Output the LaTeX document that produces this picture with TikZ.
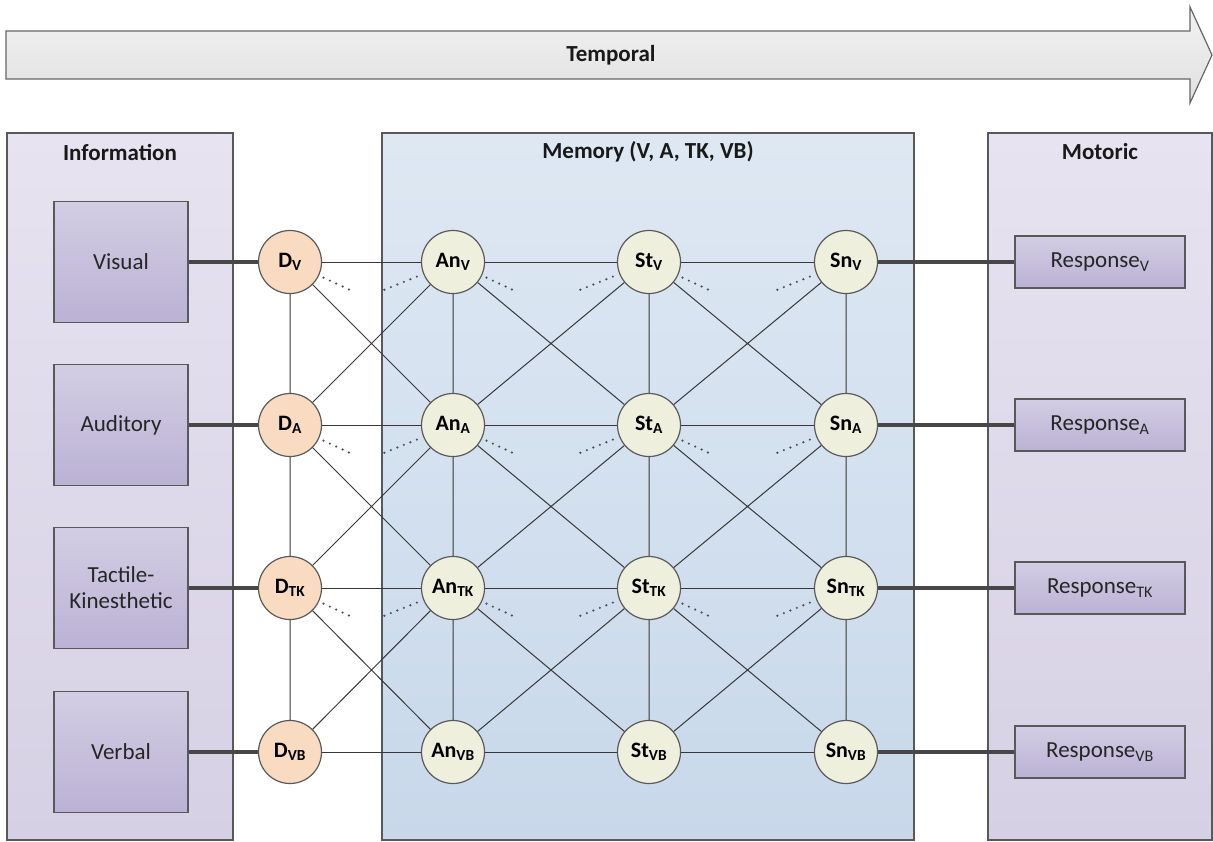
\documentclass[tikz,border=0pt]{standalone}
\usepackage{fontspec}
\setmainfont{Carlito}
\usetikzlibrary{positioning}

\definecolor{linegray}{HTML}{595959}
\definecolor{panelTop}{HTML}{E7E3F0}
\definecolor{panelBot}{HTML}{D6D0E4}
\definecolor{boxTop}{HTML}{D3CDE4}
\definecolor{boxBot}{HTML}{BBB2D4}
\definecolor{memTop}{HTML}{DEE8F3}
\definecolor{memBot}{HTML}{C8D8EA}
\definecolor{dFill}{HTML}{F9DBC1}
\definecolor{mFill}{HTML}{EEF0DD}

\newcommand{\lsub}[1]{\textsubscript{#1}}

\tikzset{
  panel/.style={draw=linegray, line width=1.2pt, top color=panelTop, bottom color=panelBot},
  mempanel/.style={panel, top color=memTop, bottom color=memBot},
  title/.style={font=\fontsize{23}{27}\selectfont\bfseries, text=black!90},
  srcbox/.style={draw=linegray, line width=1.2pt, top color=boxTop, bottom color=boxBot,
    minimum width=134, minimum height=121, align=center,
    font=\fontsize{23}{26}\selectfont, text=black!85},
  respbox/.style={srcbox, minimum width=170, minimum height=52},
  dnode/.style={circle, draw=linegray, line width=1.2pt, fill=dFill, minimum size=63,
    inner sep=0pt, font=\fontsize{22}{26}\selectfont\bfseries},
  mnode/.style={dnode, fill=mFill},
  link/.style={draw=black!78, line width=1pt},
  heavy/.style={draw=black!72, line width=3.4pt},
  dotline/.style={draw=black!70, line width=2.4pt, line cap=round, dash pattern=on 0pt off 7pt},
  timearrow/.style={draw=black!60, line width=1.2pt, top color=black!5, bottom color=black!12}
}

\begin{document}
\begin{tikzpicture}[x=1pt, y=-1pt]
  \useasboundingbox (0,0) rectangle (1213,841);

  % time axis
  \draw[timearrow] (6,31) -- (1190,31) -- (1190,7) -- (1212,55) -- (1190,103)
    -- (1190,79) -- (6,79) -- cycle;
  \node[title] (temporal) at (611,55) {Temporal};

  % panels
  \node[panel, minimum width=226, minimum height=707] (information) at (120,486.5) {};
  \node[mempanel, minimum width=532, minimum height=707] (memory) at (648,486.5) {};
  \node[panel, minimum width=224, minimum height=707] (motoric) at (1100,486.5) {};
  \node[title] (infotitle) at (120,152) {Information};
  \node[title] (memtitle) at (648,152) {Memory (V, A, TK, VB)};
  \node[title] (mottitle) at (1100,152) {Motoric};

  % sources
  \node[srcbox] (visual) at (121,262) {Visual};
  \node[srcbox] (auditory) at (121,425) {Auditory};
  \node[srcbox] (tactile) at (121,588) {Tactile-\\Kinesthetic};
  \node[srcbox] (verbal) at (121,752) {Verbal};

  % grid of states
  \foreach \r/\y in {V/262, A/425, TK/588, VB/752} {
    \node[dnode] (d\r) at (290,\y) {D\lsub{\r}};
    \node[mnode] (an\r) at (453,\y) {An\lsub{\r}};
    \node[mnode] (st\r) at (649,\y) {St\lsub{\r}};
    \node[mnode] (sn\r) at (846,\y) {Sn\lsub{\r}};
    \node[respbox] (resp\r) at (1100,\y) {Response\lsub{\r}};
  }

  \foreach \r/\b in {V/visual, A/auditory, TK/tactile, VB/verbal} {
    \draw[heavy] (\b) -- (d\r)  (sn\r) -- (resp\r);
    \draw[link] (d\r) -- (an\r)  (an\r) -- (st\r)  (st\r) -- (sn\r);
  }

  \foreach \r/\s in {V/A, A/TK, TK/VB} {
    \draw[link] (d\r) -- (d\s)  (an\r) -- (an\s)
                (st\r) -- (st\s)  (sn\r) -- (sn\s)
                (d\r) -- (an\s)  (d\s) -- (an\r)
                (an\r) -- (st\s)  (an\s) -- (st\r)
                (st\r) -- (sn\s)  (st\s) -- (sn\r);
  }

  % hints of further links
  \foreach \r in {V, A, TK} {
    \foreach \n in {d, an, st}
      \draw[dotline] ([shift={(25:37)}]\n\r.center) -- ([shift={(25:66)}]\n\r.center);
    \foreach \n in {an, st, sn}
      \draw[dotline] ([shift={(158:39)}]\n\r.center) -- ([shift={(158:75)}]\n\r.center);
  }
\end{tikzpicture}
\end{document}
